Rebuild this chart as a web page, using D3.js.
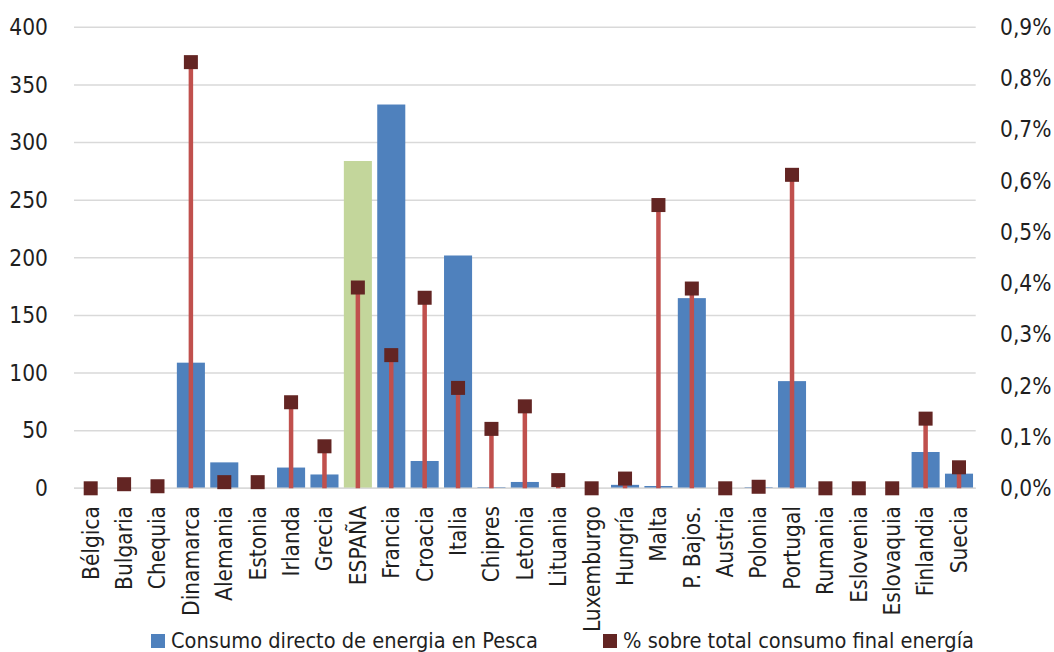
<!DOCTYPE html>
<html><head><meta charset="utf-8">
<script src="https://cdn.jsdelivr.net/npm/d3@7"></script>
<style>
html,body{margin:0;padding:0;background:#fff;}
svg{display:block;}
text{font-family:"Liberation Sans Narrow","DejaVu Sans Condensed","Roboto",sans-serif;fill:#1f1f1f;}
</style></head>
<body>
<svg id="chart" width="1054" height="652"></svg>
<script>
const categories = ["Bélgica","Bulgaria","Chequia","Dinamarca","Alemania","Estonia","Irlanda","Grecia","ESPAÑA","Francia","Croacia","Italia","Chipres","Letonia","Lituania","Luxemburgo","Hungría","Malta","P. Bajos.","Austria","Polonia","Portugal","Rumania","Eslovenia","Eslovaquia","Finlandia","Suecia"];
const energia = [0,0,0,109,22.5,0,18,12,284,333,23.7,202,1,5.5,0,0,3,2,165,0,1,93,0,0,0,31.5,12.7];
const porcentaje = [0,0.008,0.004,0.832,0.012,0.012,0.168,0.082,0.392,0.26,0.372,0.196,0.116,0.16,0.016,0,0.019,0.553,0.39,0,0.003,0.612,0,0,0,0.136,0.041];
const leftTicks = [0,50,100,150,200,250,300,350,400];
const rightTicks = [0,0.1,0.2,0.3,0.4,0.5,0.6,0.7,0.8,0.9];
const highlight = "ESPAÑA";
const legendLabels = ["Consumo directo de energia en Pesca","% sobre total consumo final energía"];

const svg = d3.select("#chart");
const pLeft = 74, pRight = 975.7, pTop = 27.3, pBottom = 488.3;

const x = d3.scaleBand().domain(categories).range([pLeft, pRight]).paddingInner(0.16).paddingOuter(0.08);
const yL = d3.scaleLinear().domain([0,400]).range([pBottom, pTop]);
const yR = d3.scaleLinear().domain([0,0.9]).range([pBottom, pTop]);

// gridlines
svg.append("g").selectAll("line").data(leftTicks).join("line")
  .attr("x1", pLeft).attr("x2", pRight)
  .attr("y1", d => yL(d)).attr("y2", d => yL(d))
  .attr("stroke", "#d9d9d9").attr("stroke-width", 1.4);

// left axis
const la = svg.append("g").attr("transform", `translate(${48},0)`)
  .call(d3.axisLeft(yL).tickValues(leftTicks).tickSize(0).tickPadding(0));
la.select(".domain").remove();

// right axis
const fmt = d => d.toFixed(1).replace(".", ",") + "%";
const ra = svg.append("g").attr("transform", `translate(${1000},0)`)
  .call(d3.axisRight(yR).tickValues(rightTicks).tickFormat(fmt).tickSize(0).tickPadding(0));
ra.select(".domain").remove();
la.attr("font-family", null).attr("font-size", null);
ra.attr("font-family", null).attr("font-size", null);
svg.selectAll(".tick text").attr("font-size", 22.5).attr("fill", "#1f1f1f");

// bars
svg.append("g").selectAll("rect").data(categories).join("rect")
  .attr("x", d => x(d))
  .attr("width", x.bandwidth())
  .attr("y", (d,i) => yL(energia[i]))
  .attr("height", (d,i) => pBottom - yL(energia[i]))
  .attr("fill", d => d === highlight ? "#c3d69b" : "#4f81bd");

// baseline
svg.append("line").attr("x1", pLeft).attr("x2", pRight).attr("y1", pBottom).attr("y2", pBottom)
  .attr("stroke", "#d9d9d9").attr("stroke-width", 1.4);

// stems
svg.append("g").selectAll("line").data(categories).join("line")
  .attr("x1", d => x(d) + x.bandwidth()/2).attr("x2", d => x(d) + x.bandwidth()/2)
  .attr("y1", pBottom).attr("y2", (d,i) => yR(porcentaje[i]))
  .attr("stroke", "#c0504d").attr("stroke-width", 4.5);

// markers
const ms = 14;
svg.append("g").selectAll("rect").data(categories).join("rect")
  .attr("x", d => x(d) + x.bandwidth()/2 - ms/2)
  .attr("y", (d,i) => yR(porcentaje[i]) - ms/2)
  .attr("width", ms).attr("height", ms)
  .attr("fill", "#632523");

// category labels
svg.append("g").selectAll("text").data(categories).join("text")
  .attr("transform", d => `translate(${x(d) + x.bandwidth()/2},${506}) rotate(-90)`)
  .attr("text-anchor", "end").attr("dy", "0.35em")
  .attr("font-size", 22.5)
  .text(d => d);

// legend
const leg = svg.append("g");
leg.append("rect").attr("x", 151).attr("y", 634).attr("width", 14).attr("height", 14).attr("fill", "#4f81bd");
leg.append("text").attr("x", 171).attr("y", 648).attr("font-size", 21.6).text(legendLabels[0]);
leg.append("rect").attr("x", 603).attr("y", 634).attr("width", 14).attr("height", 14).attr("fill", "#632523");
leg.append("text").attr("x", 623).attr("y", 648).attr("font-size", 21.6).text(legendLabels[1]);
</script>
</body></html>
